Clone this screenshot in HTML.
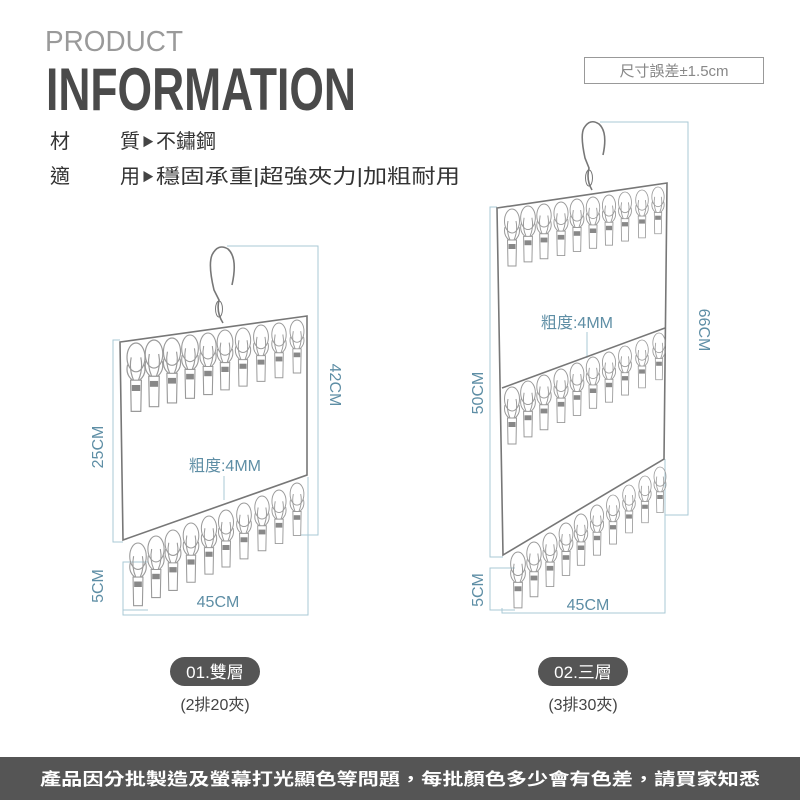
<!DOCTYPE html>
<html><head><meta charset="utf-8"><style>
html,body{margin:0;padding:0;background:#fff;}
svg{display:block;}
</style></head><body>
<svg width="800" height="800" viewBox="0 0 800 800" xmlns="http://www.w3.org/2000/svg">
<defs>
<g id="c" fill="none" stroke="#9a9a9a" stroke-width="1">
<ellipse cx="0" cy="12" rx="7.5" ry="12"/>
<path d="M-7,18 Q-9,26 -3,31 M7,18 Q9,26 3,31 M-4,12 Q-6,22 -2,31 M4,12 Q6,22 2,31"/>
<path d="M-4.5,31 L4.5,31 L4,57 L-4,57 Z" fill="#fff"/>
<rect x="-3.5" y="35" width="7" height="5" fill="#888" stroke="none"/>
</g>
</defs>
<text x="45" y="51" font-family="Liberation Sans, sans-serif" font-size="29" fill="#9a9a9a" textLength="138" lengthAdjust="spacingAndGlyphs">PRODUCT</text>
<text x="46" y="110" font-family="Liberation Sans, sans-serif" font-weight="bold" font-size="60" fill="#4a4a4a" textLength="310" lengthAdjust="spacingAndGlyphs">INFORMATION</text>
<rect x="584.5" y="57.5" width="179" height="26" fill="none" stroke="#999"/>
<text x="674" y="76" text-anchor="middle" font-family="Liberation Sans, 'Noto Sans CJK TC', sans-serif" font-size="15" fill="#888">尺寸誤差±1.5cm</text>
<g font-family="Liberation Sans, 'Noto Sans CJK TC', sans-serif" font-size="20" fill="#333">
<text x="50" y="148">材</text><text x="120" y="148">質</text><text x="142" y="146" font-size="12" fill="#444">▶</text><text x="156" y="148">不鏽鋼</text>
<text x="50" y="183">適</text><text x="120" y="183">用</text><text x="142" y="181" font-size="12" fill="#444">▶</text><text x="156" y="183" textLength="304" lengthAdjust="spacingAndGlyphs">穩固承重|超強夾力|加粗耐用</text>
</g>

<g fill="none" stroke="#a9c9d6" stroke-width="1">
<path d="M227,246 H318 V535 H300"/>
<path d="M120,340 H113 V542 H123"/>
<path d="M148,562 H123 V610 H148"/>
<path d="M123,610 V615 H308 V477"/>
<path d="M224,476 V500"/>
<path d="M600,122 H688 V515 H665"/>
<path d="M497,207 H490 V557 H503"/>
<path d="M515,568 H490 V610 H515"/>
<path d="M502,608 V613 H665 V459"/>
<path d="M587,332 V358"/>
</g>
<g font-family="Liberation Sans, 'Noto Sans CJK TC', sans-serif" font-size="16" fill="#5e8ea5">
<text transform="translate(330,385) rotate(90)" text-anchor="middle">42CM</text>
<text transform="translate(103,447) rotate(-90)" text-anchor="middle">25CM</text>
<text transform="translate(103,586) rotate(-90)" text-anchor="middle">5CM</text>
<text x="218" y="607" text-anchor="middle">45CM</text>
<text x="225" y="471" text-anchor="middle">粗度:4MM</text>
<text transform="translate(699,330) rotate(90)" text-anchor="middle">66CM</text>
<text transform="translate(483,393) rotate(-90)" text-anchor="middle">50CM</text>
<text transform="translate(483,590) rotate(-90)" text-anchor="middle">5CM</text>
<text x="588" y="610" text-anchor="middle">45CM</text>
<text x="577" y="328" text-anchor="middle">粗度:4MM</text>
</g>

<g fill="none" stroke="#777" stroke-width="1.6">
<path d="M120,342 L307,316 L307,475 L123,540 Z"/>
<path d="M223,323 Q216,312 219,300 L214,290 Q208,265 212,255 Q218,243 228,249 Q238,258 232,285"/>
<ellipse cx="219" cy="309" rx="3.5" ry="8" stroke-width="1"/>
</g>
<g>
<use href="#c" transform="translate(136,343) scale(1.2)"/>
<use href="#c" transform="translate(154,340) scale(1.17)"/>
<use href="#c" transform="translate(172,338) scale(1.14)"/>
<use href="#c" transform="translate(190,335) scale(1.11)"/>
<use href="#c" transform="translate(208,333) scale(1.08)"/>
<use href="#c" transform="translate(225,330) scale(1.05)"/>
<use href="#c" transform="translate(243,328) scale(1.02)"/>
<use href="#c" transform="translate(261,325) scale(0.99)"/>
<use href="#c" transform="translate(279,323) scale(0.96)"/>
<use href="#c" transform="translate(297,320) scale(0.93)"/>
<use href="#c" transform="translate(138,543) scale(1.1)"/>
<use href="#c" transform="translate(156,536) scale(1.08)"/>
<use href="#c" transform="translate(173,530) scale(1.06)"/>
<use href="#c" transform="translate(191,523) scale(1.04)"/>
<use href="#c" transform="translate(209,516) scale(1.02)"/>
<use href="#c" transform="translate(226,510) scale(1.0)"/>
<use href="#c" transform="translate(244,503) scale(0.98)"/>
<use href="#c" transform="translate(262,496) scale(0.96)"/>
<use href="#c" transform="translate(279,490) scale(0.94)"/>
<use href="#c" transform="translate(297,483) scale(0.92)"/>
</g>

<g fill="none" stroke="#777" stroke-width="1.6">
<path d="M497,208 L667,183 L664,459 L503,555 Z"/>
<path d="M502,388 L665,328"/>
<path d="M592,190 Q586,180 589,168 L585,158 Q580,135 584,128 Q590,118 599,124 Q608,132 603,155"/>
<ellipse cx="589" cy="178" rx="3.5" ry="8" stroke-width="1"/>
</g>
<g>
<use href="#c" transform="translate(512,209) scale(1.0)"/>
<use href="#c" transform="translate(528,206) scale(0.98)"/>
<use href="#c" transform="translate(544,204) scale(0.96)"/>
<use href="#c" transform="translate(561,202) scale(0.94)"/>
<use href="#c" transform="translate(577,199) scale(0.92)"/>
<use href="#c" transform="translate(593,197) scale(0.9)"/>
<use href="#c" transform="translate(609,195) scale(0.88)"/>
<use href="#c" transform="translate(625,192) scale(0.86)"/>
<use href="#c" transform="translate(642,190) scale(0.84)"/>
<use href="#c" transform="translate(658,187) scale(0.82)"/>
<use href="#c" transform="translate(512,387) scale(1.0)"/>
<use href="#c" transform="translate(528,381) scale(0.98)"/>
<use href="#c" transform="translate(544,375) scale(0.96)"/>
<use href="#c" transform="translate(561,369) scale(0.94)"/>
<use href="#c" transform="translate(577,363) scale(0.92)"/>
<use href="#c" transform="translate(593,357) scale(0.9)"/>
<use href="#c" transform="translate(609,352) scale(0.88)"/>
<use href="#c" transform="translate(625,346) scale(0.86)"/>
<use href="#c" transform="translate(642,340) scale(0.84)"/>
<use href="#c" transform="translate(659,333) scale(0.82)"/>
<use href="#c" transform="translate(518,552) scale(0.98)"/>
<use href="#c" transform="translate(534,542) scale(0.96)"/>
<use href="#c" transform="translate(550,533) scale(0.94)"/>
<use href="#c" transform="translate(566,523) scale(0.92)"/>
<use href="#c" transform="translate(581,514) scale(0.9)"/>
<use href="#c" transform="translate(597,505) scale(0.88)"/>
<use href="#c" transform="translate(613,495) scale(0.86)"/>
<use href="#c" transform="translate(629,485) scale(0.84)"/>
<use href="#c" transform="translate(645,476) scale(0.82)"/>
<use href="#c" transform="translate(660,467) scale(0.8)"/>
</g>

<rect x="170" y="657" width="90" height="29" rx="14.5" fill="#555"/>
<text x="215" y="678" text-anchor="middle" font-family="Liberation Sans, 'Noto Sans CJK TC', sans-serif" font-size="17" fill="#fff">01.雙層</text>
<text x="215" y="710" text-anchor="middle" font-family="Liberation Sans, 'Noto Sans CJK TC', sans-serif" font-size="16" fill="#444">(2排20夾)</text>
<rect x="538" y="657" width="90" height="29" rx="14.5" fill="#555"/>
<text x="583" y="678" text-anchor="middle" font-family="Liberation Sans, 'Noto Sans CJK TC', sans-serif" font-size="17" fill="#fff">02.三層</text>
<text x="583" y="710" text-anchor="middle" font-family="Liberation Sans, 'Noto Sans CJK TC', sans-serif" font-size="16" fill="#444">(3排30夾)</text>

<rect x="0" y="757" width="800" height="43" fill="#555"/>
<text x="400" y="785" text-anchor="middle" font-family="Liberation Sans, 'Noto Sans CJK TC', sans-serif" font-size="17" font-weight="bold" fill="#fff" textLength="720" lengthAdjust="spacingAndGlyphs">產品因分批製造及螢幕打光顯色等問題，每批顏色多少會有色差，請買家知悉</text>
</svg>
</body></html>
